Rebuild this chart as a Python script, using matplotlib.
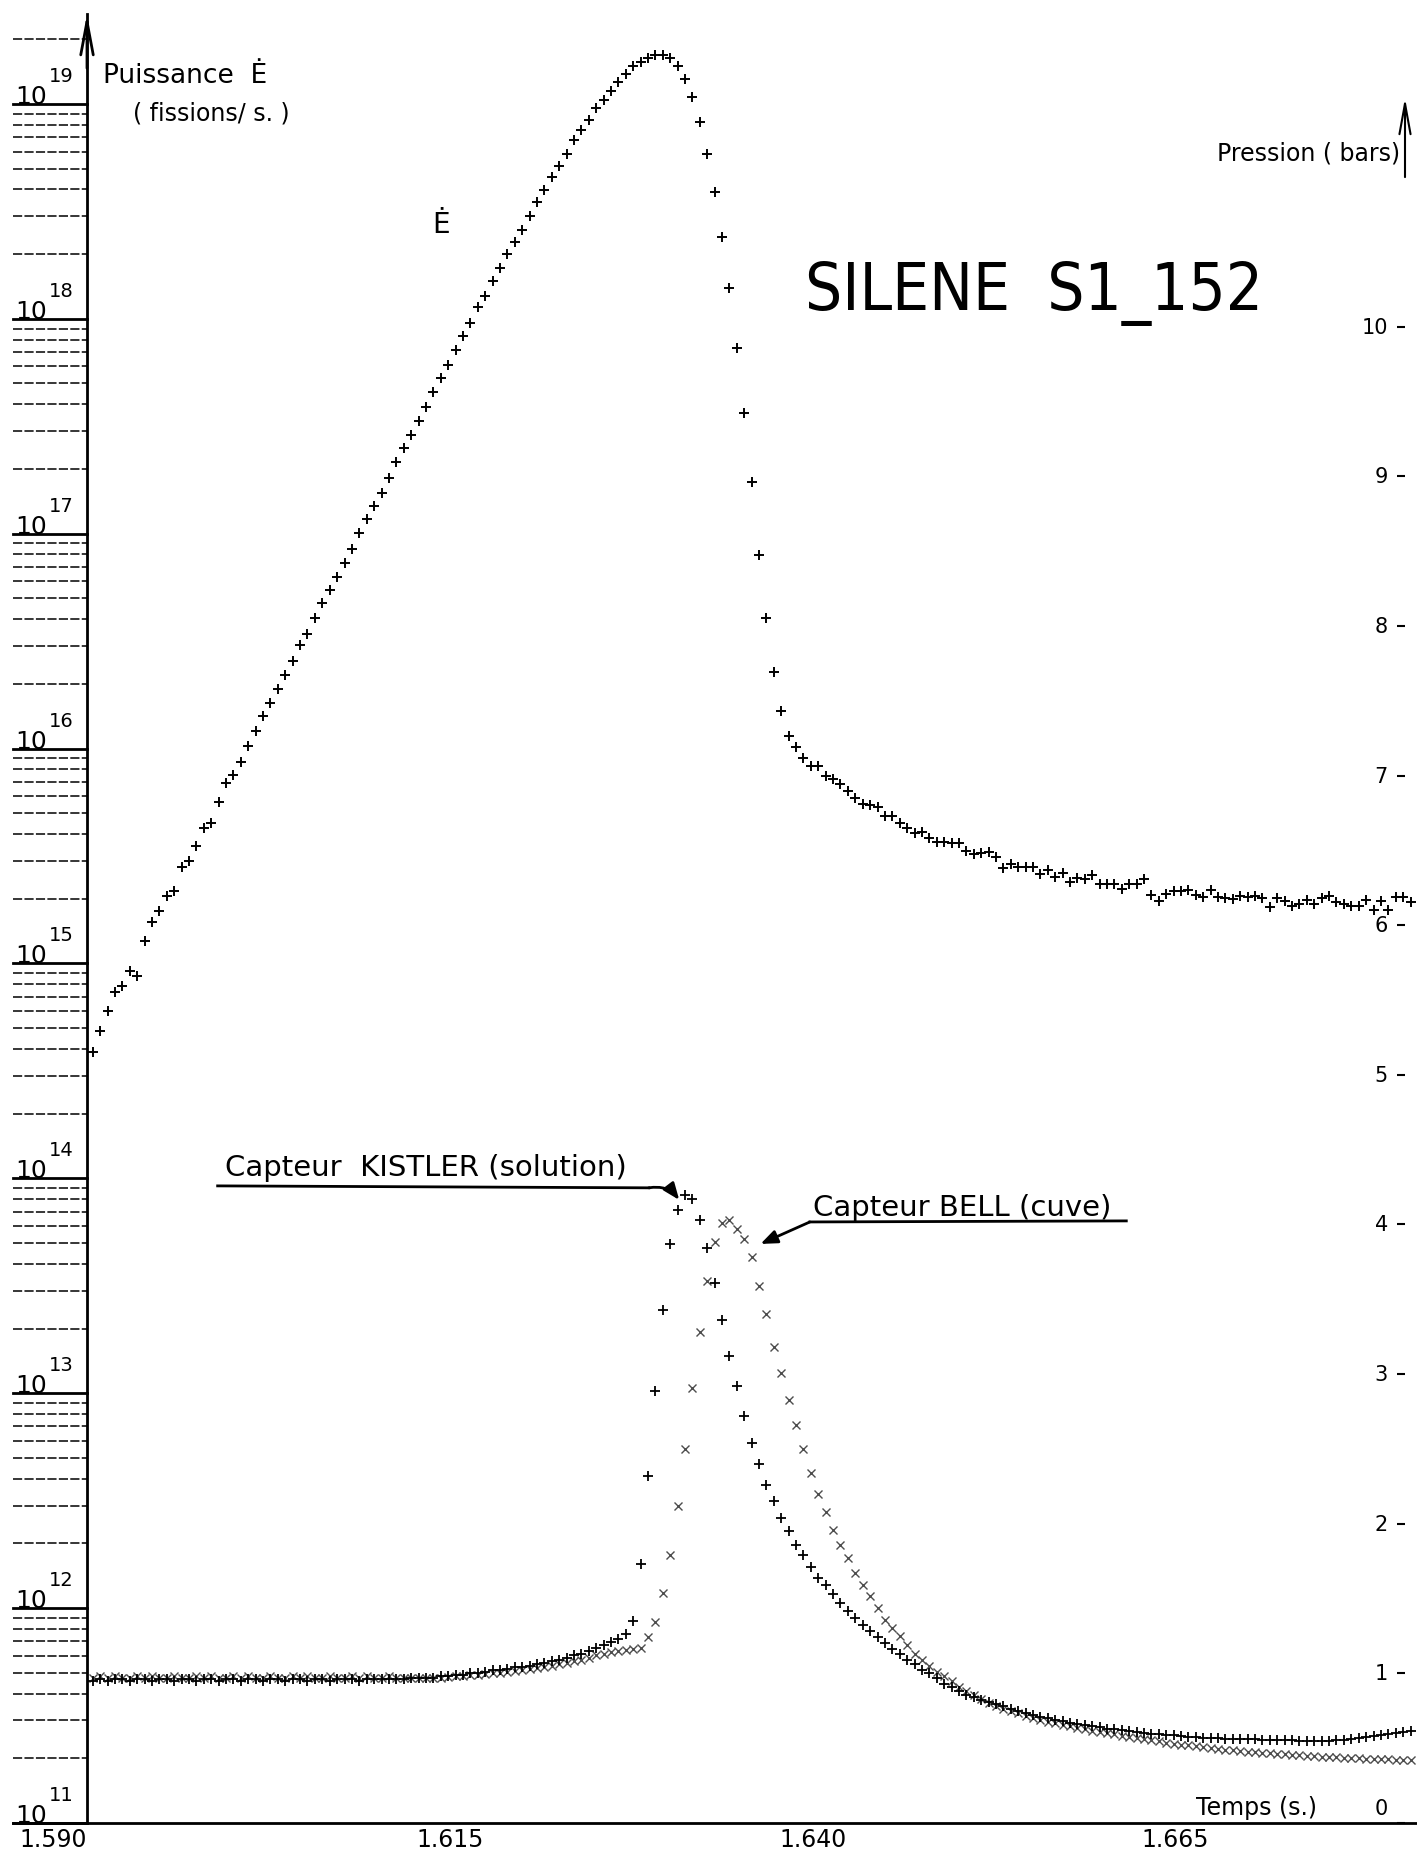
import numpy as np
import matplotlib
matplotlib.use('Agg')
import matplotlib.pyplot as plt
from matplotlib import transforms
from matplotlib.lines import Line2D

plt.rcParams['font.family'] = ['DejaVu Sans']

# sampling of the digitised records (s)
t0 = 1.5904
dt = 0.00051

# log10 of the power E (fissions/s), one value per sample
log_power = [
    14.588, 14.685, 14.779, 14.867, 14.895, 14.965, 14.941, 15.104, 15.193, 15.244,
    15.314, 15.337, 15.449, 15.476, 15.546, 15.630, 15.653, 15.751, 15.839, 15.877,
    15.937, 16.012, 16.081, 16.151, 16.212,
    16.277, 16.341, 16.409, 16.482, 16.534, 16.606, 16.675, 16.737, 16.799, 16.863,
    16.930, 17.003, 17.069, 17.127, 17.191, 17.258, 17.332, 17.399, 17.461, 17.525,
    17.591, 17.658, 17.722, 17.784, 17.853, 17.920, 17.982, 18.054, 18.108, 18.175,
    18.234, 18.301, 18.359, 18.413, 18.479, 18.542, 18.600, 18.658, 18.710, 18.768,
    18.832, 18.880, 18.923, 18.980,
    19.019, 19.061, 19.100, 19.139, 19.174, 19.196, 19.212, 19.227, 19.227, 19.212,
    19.177, 19.115, 19.030, 18.917, 18.766, 18.588, 18.379, 18.141,
    17.862, 17.560, 17.239, 16.900, 16.606,
    16.357, 16.174, 16.057, 16.008, 15.956, 15.917, 15.917, 15.873, 15.858, 15.835,
    15.804, 15.768, 15.742, 15.737, 15.729, 15.687, 15.687, 15.653, 15.629, 15.607,
    15.610, 15.582, 15.566, 15.563, 15.559, 15.559, 15.522, 15.509, 15.512, 15.517,
    15.494, 15.444, 15.463, 15.447, 15.447, 15.447, 15.416, 15.435, 15.401, 15.421,
    15.377, 15.396, 15.393, 15.413, 15.369, 15.369, 15.369, 15.346, 15.369, 15.369,
    15.393, 15.318, 15.289, 15.323, 15.338, 15.335, 15.343, 15.320, 15.308, 15.343,
    15.308, 15.303, 15.300, 15.312, 15.308, 15.312, 15.303, 15.261, 15.303, 15.292,
    15.266, 15.276, 15.296, 15.276, 15.303, 15.312, 15.284, 15.276, 15.266, 15.266,
    15.296, 15.250, 15.289, 15.250, 15.308, 15.308, 15.284,
]

# pressure (bars), KISTLER sensor (solution)
p_kistler = [
    0.95, 0.96, 0.95, 0.96, 0.96, 0.95, 0.96, 0.96, 0.95, 0.96,
    0.96, 0.95, 0.96, 0.96, 0.95, 0.96, 0.96, 0.95, 0.96, 0.96,
    0.95, 0.96, 0.96, 0.95, 0.96, 0.96, 0.95, 0.96, 0.96, 0.95,
    0.96, 0.96, 0.95, 0.96, 0.96, 0.96, 0.95, 0.96, 0.96, 0.96,
    0.96,
    0.96, 0.96, 0.97, 0.97, 0.97, 0.97, 0.98, 0.98, 0.99, 0.99,
    1.00, 1.00, 1.01, 1.02, 1.02, 1.03, 1.04, 1.04, 1.05, 1.06,
    1.07, 1.08, 1.09, 1.10, 1.12, 1.13, 1.15, 1.17, 1.19, 1.21, 1.23, 1.26,
    1.35, 1.73, 2.32, 2.89, 3.43, 3.87, 4.10, 4.20, 4.17, 4.03,
    3.84, 3.61, 3.36, 3.12, 2.92, 2.72, 2.54, 2.40, 2.26, 2.15,
    2.04, 1.95, 1.86, 1.79, 1.71, 1.64, 1.59, 1.53,
    1.47, 1.42, 1.37, 1.32, 1.28, 1.24, 1.20, 1.16, 1.13, 1.09,
    1.06, 1.02, 1.00, 0.97, 0.93, 0.91, 0.88,
    0.856, 0.84, 0.825, 0.81, 0.795, 0.78, 0.765, 0.75, 0.735, 0.72,
    0.71, 0.70, 0.69, 0.68, 0.67, 0.66, 0.655, 0.645, 0.64, 0.63,
    0.625, 0.62, 0.612, 0.607, 0.60, 0.597, 0.592, 0.588, 0.585, 0.58,
    0.577, 0.573, 0.57, 0.568, 0.565, 0.563, 0.562, 0.56, 0.56, 0.559,
    0.558, 0.556, 0.555, 0.553, 0.552, 0.551, 0.55, 0.55, 0.55, 0.551,
    0.552, 0.555, 0.56, 0.565, 0.572, 0.58, 0.588, 0.595, 0.60, 0.607,
    0.612,
]

# pressure (bars), BELL sensor (vessel)
p_bell = [
    0.97, 0.98, 0.97, 0.98, 0.97, 0.97, 0.98, 0.97, 0.98, 0.97,
    0.97, 0.98, 0.97, 0.97, 0.98, 0.97, 0.98, 0.97, 0.97, 0.98,
    0.97, 0.98, 0.97, 0.97, 0.98, 0.97, 0.97, 0.98, 0.97, 0.98,
    0.97, 0.97, 0.98, 0.97, 0.97, 0.98, 0.97, 0.98, 0.97, 0.97,
    0.98,
    0.97, 0.97, 0.97, 0.97, 0.97, 0.97, 0.97, 0.975, 0.98, 0.985,
    0.99, 0.99, 0.995, 1.00, 1.005, 1.01, 1.015, 1.02, 1.028, 1.035,
    1.04, 1.05, 1.06, 1.07, 1.08, 1.09, 1.10, 1.12, 1.13, 1.14,
    1.15, 1.155, 1.16, 1.17, 1.24,
    1.34, 1.54, 1.79, 2.12, 2.50, 2.91, 3.28, 3.62, 3.88, 4.01,
    4.03, 3.97, 3.90, 3.78, 3.59, 3.40, 3.18, 3.01, 2.83, 2.66,
    2.50, 2.34, 2.20, 2.08, 1.96, 1.86, 1.77, 1.67, 1.59, 1.52,
    1.44, 1.36, 1.30, 1.25, 1.19, 1.13, 1.09, 1.05, 1.01, 0.98,
    0.95, 0.91, 0.88,
    0.855, 0.83, 0.805, 0.783, 0.765, 0.748, 0.732, 0.718, 0.703, 0.69,
    0.678, 0.666, 0.655, 0.645, 0.635, 0.626, 0.617, 0.608, 0.60, 0.592,
    0.584, 0.576, 0.568, 0.56, 0.552, 0.545, 0.538, 0.531, 0.524, 0.518,
    0.512, 0.506, 0.50, 0.495, 0.49, 0.485, 0.481, 0.477, 0.473, 0.469,
    0.465, 0.461, 0.458, 0.455, 0.452, 0.449, 0.446, 0.443, 0.44, 0.438,
    0.436, 0.434, 0.432, 0.43, 0.428, 0.426, 0.425, 0.424, 0.423, 0.422,
]

x_ticks = [1.590, 1.615, 1.640, 1.665]
x_labels = ['1.590', '1.615', '1.640', '1.665']
p_ticks = [0, 1, 2, 3, 4, 5, 6, 7, 8, 9, 10]
decades = [11, 12, 13, 14, 15, 16, 17, 18, 19]

t = t0 + dt * np.arange(len(log_power))
power = 10.0 ** np.array(log_power)

W, H = 1417, 1856
fig = plt.figure(figsize=(W / 100, H / 100), dpi=100)
ax = fig.add_axes([87 / W, 32 / H, 1318 / W, 1809 / H])
ax.set_yscale('log')
ax.set_xlim(1.590, 1.6808)
ax.set_ylim(1e11, 10 ** 19.418)
ax2 = ax.twinx()
ax2.set_ylim(0, 12.09)

for s in ['top', 'right', 'bottom']:
    ax.spines[s].set_visible(False)
    ax2.spines[s].set_visible(False)
ax2.spines['left'].set_visible(False)
ax.spines['left'].set_linewidth(2)
ax2.spines['right'].set_linewidth(1.1)
ax2.spines['right'].set_linestyle((0, (7, 2)))
ax2.spines['right'].set_bounds(0, 11.53)

# bottom time axis line (runs past both vertical axes)
fig.add_artist(Line2D([13 / W, 1.0], [32 / H, 32 / H], color='k', lw=2,
                      transform=fig.transFigure))

# curves
ax.plot(t, power, ls='none', marker='+', ms=6.5, mew=1.4, color='k', clip_on=False)
ax2.plot(t, p_bell, ls='none', marker='x', ms=5.5, mew=1.0, color='0.3', clip_on=False)
ax2.plot(t, p_kistler, ls='none', marker='+', ms=6.5, mew=1.3, color='k', clip_on=False)

# x ticks
ax.set_xticks(x_ticks, x_labels)
ax.tick_params(axis='x', length=0, pad=3, labelsize=17)
ax.get_xticklabels()[0].set_horizontalalignment('right')
ax.get_xticklabels()[0].set_x(1.59045)
ax.tick_params(axis='y', which='both', left=False, labelleft=False)
ax2.set_yticks(p_ticks)
ax2.tick_params(axis='y', direction='in', length=6, width=1.5, labelright=False)

# left log scale: long lines outside the axis, decades underlined
ytr = ax.get_yaxis_transform()
x_out = -74 / 1318
for d in decades:
    ax.plot([x_out, 0], [10.0 ** d, 10.0 ** d], color='k', lw=2, transform=ytr, clip_on=False)
    for m in range(2, 10):
        v = m * 10.0 ** d
        if v < 10 ** 19.418:
            ax.plot([x_out, 0], [v, v], color='k', lw=1.1, ls=(0, (6, 1.5)),
                    transform=ytr, clip_on=False)
    base = transforms.offset_copy(ytr, fig=fig, y=1, units='dots')
    ax.text(-72 / 1318, 10.0 ** d, '10', transform=base, fontsize=18,
            ha='left', va='baseline')
    sup = transforms.offset_copy(ytr, fig=fig, y=23, units='dots')
    ax.text(-38 / 1318, 10.0 ** d, str(d), transform=sup, fontsize=14,
            ha='left', va='baseline')

# right pressure labels, inside the axis
ptr = ax2.get_yaxis_transform()
for p in p_ticks:
    if p == 0:
        ax2.text(0.9871, 0.06, '0', transform=ptr, fontsize=15, ha='right', va='baseline')
    else:
        ax2.text(0.9871, p, str(p), transform=ptr, fontsize=15, ha='right', va='center')

# axis arrows
ax.annotate('', xy=(0, 1.0), xytext=(0, 0.97), xycoords='axes fraction',
            arrowprops=dict(arrowstyle='->,head_length=2.4,head_width=0.45',
                            lw=2, color='k', shrinkA=0, shrinkB=0, mutation_scale=10))
ax2.annotate('', xy=(1.0, 11.53), xytext=(1.0, 11.0), xycoords=ptr,
             arrowprops=dict(arrowstyle='->,head_length=2.2,head_width=0.4',
                             lw=1.5, color='k', shrinkA=0, shrinkB=0, mutation_scale=10))

# titles and labels (figure pixel positions)
def fig_text(x, y, s, **kw):
    fig.text(x / W, 1 - y / H, s, **kw)

fig_text(103, 83, 'Puissance  Ė', fontsize=19, ha='left', va='baseline')
fig_text(133, 121, '( fissions/ s. )', fontsize=17, ha='left', va='baseline')
fig_text(1400, 160, 'Pression ( bars)', fontsize=17, ha='right', va='baseline')
fig_text(805, 310, 'SILENE  S1_152', fontsize=47, fontstretch='condensed',
         ha='left', va='baseline')
fig_text(1317, 1815, 'Temps (s.)', fontsize=17, ha='right', va='baseline')

# label of the power curve
ax.text(0.2686, 10 ** 18.44, 'Ė', transform=ax.get_yaxis_transform(), fontsize=20,
        ha='center', va='center')

# sensor annotations
ax2.text(1.5995, 4.33, 'Capteur  KISTLER (solution)', fontsize=21, ha='left', va='baseline')
ax2.plot([1.5990, 1.6287], [4.258, 4.245], color='k', lw=2, clip_on=False)
ax2.annotate('', xy=(1.6308, 4.164), xytext=(1.6287, 4.245),
             arrowprops=dict(arrowstyle='-|>,head_length=1.0,head_width=0.4', lw=2,
                             color='k', shrinkA=0, shrinkB=0,
                             connectionstyle='arc3,rad=-0.3'))
ax2.text(1.6400, 4.064, 'Capteur BELL (cuve)', fontsize=21, ha='left', va='baseline')
ax2.plot([1.6616, 1.6398], [4.024, 4.017], color='k', lw=2, clip_on=False)
ax2.annotate('', xy=(1.6364, 3.87), xytext=(1.6398, 4.017),
             arrowprops=dict(arrowstyle='-|>,head_length=1.0,head_width=0.4', lw=2,
                             color='k', shrinkA=0, shrinkB=0))

fig.savefig('out.png', dpi=100, facecolor='white')
